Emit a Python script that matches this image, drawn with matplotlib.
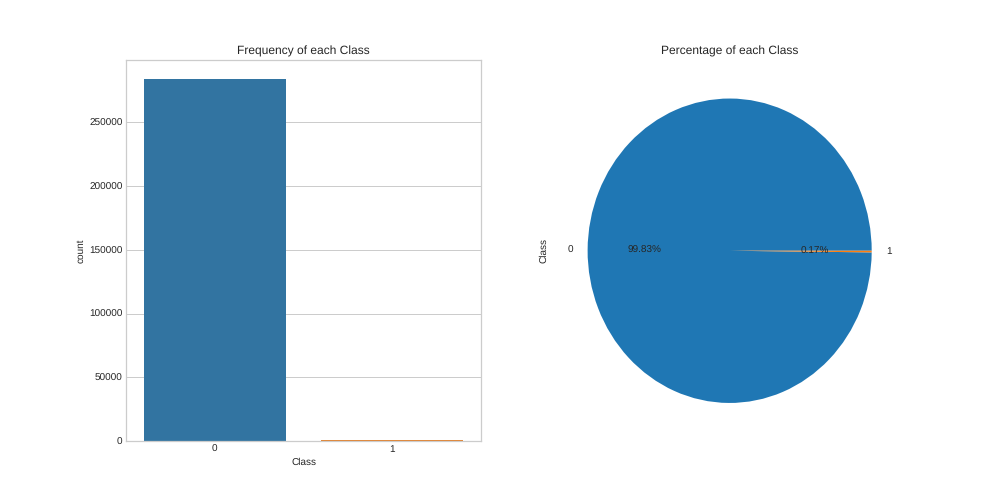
import matplotlib
matplotlib.use("Agg")
import matplotlib.pyplot as plt

classes = ["0", "1"]
counts = [284315, 492]
bar_colors = ["#3274a1", "#e1812c"]
pie_colors = ["#1f77b4", "#ff7f0e"]
text_color = '#262626'

plt.rcParams['font.family'] = ['Liberation Sans', 'DejaVu Sans']
plt.rcParams['font.size'] = 10
plt.rcParams['text.hinting'] = 'none'
plt.rcParams['text.hinting_factor'] = 1

fig, (ax1, ax2) = plt.subplots(1, 2, figsize=(14, 7), dpi=72)
fig.subplots_adjust(left=0.125, right=0.9, top=0.88, bottom=0.125, wspace=0.2)

ax1.set_axisbelow(True)
ax1.grid(axis='y', color='#cccccc', lw=1)
ax1.bar(classes, counts, width=0.8, color=bar_colors)
ax1.set_xlim(-0.5, 1.5)
ax1.set_ylim(0, 298530)
for s in ax1.spines.values():
    s.set_color('#cccccc')
    s.set_linewidth(1.25)
ax1.tick_params(length=0, labelsize=10, colors=text_color)
ax1.set_xlabel("Class", fontsize=10, color=text_color)
ax1.set_ylabel("count", fontsize=10, color=text_color)
ax1.set_title("Frequency of each Class", fontsize=12, color=text_color)

ax2.pie(counts, labels=classes, autopct='%1.2f%%', colors=pie_colors,
        textprops={'fontsize': 10, 'color': text_color})
ax2.set_aspect('auto')
ax2.set_xlim(-1.25, 1.25)
ax2.set_ylim(-1.25, 1.25)
ax2.set_ylabel("Class", fontsize=10, color=text_color)
ax2.set_title("Percentage of each Class", fontsize=12, color=text_color)
fig.savefig("out.png", dpi=72)
